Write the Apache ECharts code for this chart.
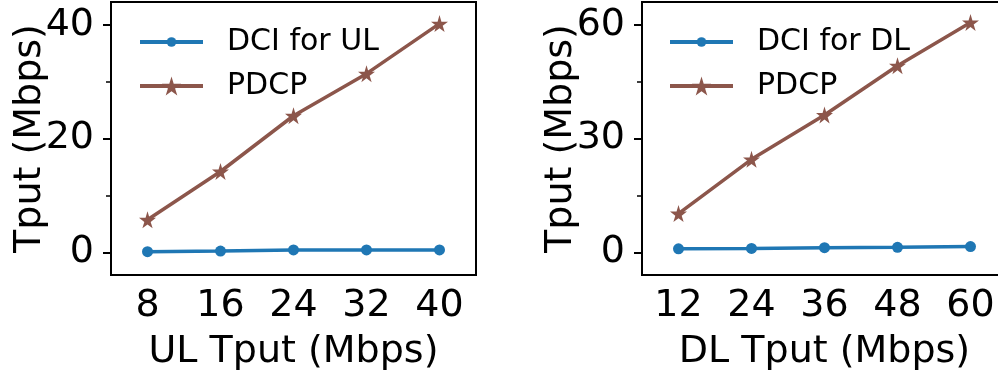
<!doctype html>
<html lang="en">
<head>
  <meta charset="UTF-8">
  <title>Tput</title>
  <style>
    html, body { margin: 0; padding: 0; background: #fff; }
    #chart { width: 998px; height: 374px; }
  </style>
  <script src="https://cdn.jsdelivr.net/npm/echarts@6/dist/echarts.min.js"></script>
</head>
<body>
  <div id="chart"></div>
  <script>
    // data
    var ulRates = ['8', '16', '24', '32', '40'];
    var ulDci = [0.1, 0.2, 0.4, 0.4, 0.4];
    var ulPdcp = [5.7, 14.2, 24.0, 31.4, 40.2];

    var dlRates = ['12', '24', '36', '48', '60'];
    var dlDci = [0.9, 1.0, 1.2, 1.3, 1.5];
    var dlPdcp = [10.2, 24.5, 36.2, 49.2, 60.6];

    var ulMajor = [0, 20, 40], ulMinor = [10, 30];
    var dlMajor = [0, 30, 60], dlMinor = [15, 45];

    var FONT = 'DejaVu Sans';
    var BLUE = '#1f77b4', BROWN = '#8c564b';
    var STAR = 'path://M50,0 L61,35 L98,35 L68,57 L79,91 L50,70 L21,91 L32,57 L2,35 L39,35 Z';
    var LW = 3.5;

    var myChart = echarts.init(document.getElementById('chart'));

    function xAxisOf(idx, data, title) {
      return {
        type: 'category', gridIndex: idx, data: data, boundaryGap: true,
        name: title, nameLocation: 'middle', nameGap: 58,
        nameTextStyle: { fontFamily: FONT, fontSize: 38, color: '#000' },
        axisLine: { onZero: false, lineStyle: { color: '#000', width: 2 } },
        axisTick: { alignWithLabel: true, length: 8, lineStyle: { color: '#000', width: 2 } },
        axisLabel: { fontFamily: FONT, fontSize: 38, color: '#000', margin: 12 },
        splitLine: { show: false }
      };
    }

    function yAxesOf(idx, min, max, major, minor) {
      return [{
        type: 'value', gridIndex: idx, min: min, max: max,
        name: 'Tput (Mbps)', nameLocation: 'middle', nameGap: 62, nameRotate: 90,
        nameMoveOverlap: false,
        nameTextStyle: { fontFamily: FONT, fontSize: 38, color: '#000' },
        axisLine: { show: true, lineStyle: { color: '#000', width: 2 } },
        axisTick: { show: true, length: 8, customValues: major, lineStyle: { color: '#000', width: 2 } },
        axisLabel: { fontFamily: FONT, fontSize: 38, color: '#000', margin: 17, customValues: major },
        splitLine: { show: false }
      }, {
        // minor ticks only
        type: 'value', gridIndex: idx, min: min, max: max, position: 'left',
        axisLine: { show: false },
        axisTick: { show: true, length: 5, customValues: minor, lineStyle: { color: '#000', width: 1.5 } },
        axisLabel: { show: false },
        splitLine: { show: false }
      }];
    }

    function lineSeries(name, xi, yi, data, color, symbol, size) {
      return {
        name: name, type: 'line', xAxisIndex: xi, yAxisIndex: yi, data: data,
        symbol: symbol, symbolSize: size, showSymbol: true,
        lineStyle: { color: color, width: LW },
        itemStyle: { color: color },
        z: 3
      };
    }

    // one legend per row so that each row can have its own marker size
    function legendOf(left, top, name, iconH) {
      return {
        orient: 'vertical', left: left, top: top, padding: 0,
        itemWidth: 63, itemHeight: iconH,
        data: [name],
        lineStyle: { width: 4 },
        textStyle: { fontFamily: FONT, fontSize: 30, color: '#000', lineHeight: 30, padding: [0, 0, 0, 19] }
      };
    }

    var yUl = yAxesOf(0, -4, 44, ulMajor, ulMinor);
    var yDl = yAxesOf(1, -6, 66, dlMajor, dlMinor);

    var option = {
      animation: false,
      backgroundColor: '#fff',
      grid: [
        { left: 111, top: 2, width: 365, height: 273, outerBoundsMode: 'none', show: true, borderColor: '#000', borderWidth: 2 },
        { left: 642, top: 2, width: 365, height: 273, outerBoundsMode: 'none', show: true, borderColor: '#000', borderWidth: 2 }
      ],
      legend: [
        legendOf(138, 27, 'DCI for UL', 12),
        legendOf(138, 71, 'PDCP', 24),
        legendOf(668, 27, 'DCI for DL', 12),
        legendOf(668, 71, 'PDCP ', 24)
      ],
      xAxis: [xAxisOf(0, ulRates, 'UL Tput (Mbps)'), xAxisOf(1, dlRates, 'DL Tput (Mbps)')],
      yAxis: [yUl[0], yUl[1], yDl[0], yDl[1]],
      series: [
        lineSeries('DCI for UL', 0, 0, ulDci, BLUE, 'circle', 11),
        lineSeries('PDCP', 0, 0, ulPdcp, BROWN, STAR, 17),
        lineSeries('DCI for DL', 1, 2, dlDci, BLUE, 'circle', 11),
        lineSeries('PDCP ', 1, 2, dlPdcp, BROWN, STAR, 17)
      ]
    };
    myChart.setOption(option);
  </script>
</body>
</html>
